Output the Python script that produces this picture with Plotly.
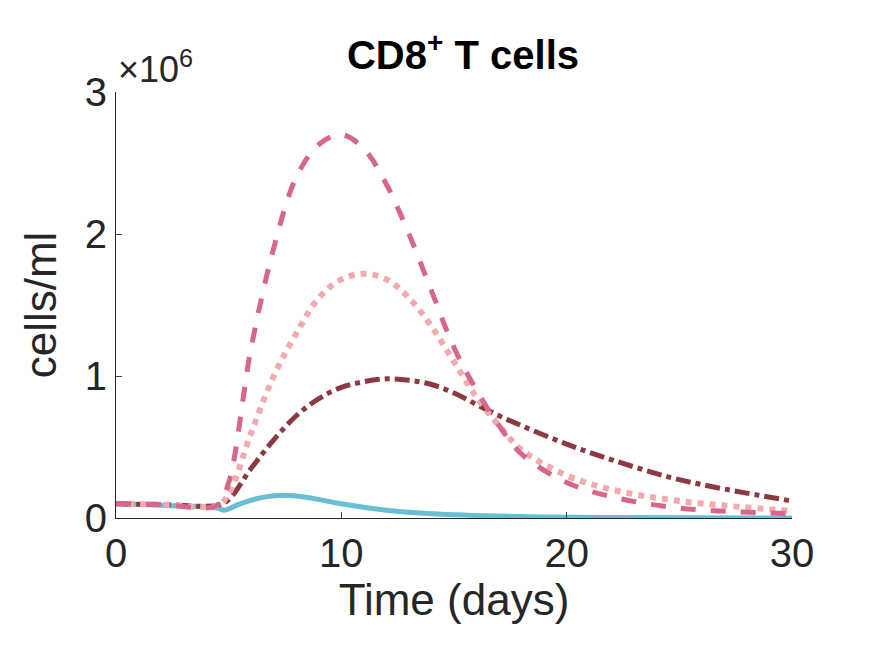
import plotly.graph_objects as go

t_main = [0, 2, 4.5, 5, 6, 7, 8, 9, 10, 11, 12, 13, 14, 15, 16, 17, 18, 20, 22, 25, 30]
dash_vals = [0.1, 0.095, 0.09, 0.25, 1.2, 1.9, 2.4, 2.63, 2.7, 2.6, 2.35, 2.0, 1.6, 1.2, 0.9, 0.65, 0.45, 0.25, 0.15, 0.07, 0.03]
dot_vals = [0.1, 0.095, 0.09, 0.17, 0.6, 1.0, 1.3, 1.55, 1.68, 1.72, 1.68, 1.55, 1.35, 1.1, 0.85, 0.65, 0.48, 0.3, 0.2, 0.12, 0.05]
dashdot_vals = [0.1, 0.095, 0.09, 0.13, 0.35, 0.55, 0.72, 0.84, 0.92, 0.96, 0.98, 0.97, 0.94, 0.88, 0.8, 0.72, 0.65, 0.52, 0.41, 0.27, 0.12]
t_cyan = [0, 2, 4.5, 4.8, 5.5, 6.5, 7.5, 8.5, 10, 12, 14, 18, 22, 30]
cyan_vals = [0.1, 0.09, 0.07, 0.055, 0.1, 0.145, 0.16, 0.145, 0.1, 0.055, 0.03, 0.01, 0.003, 0.0]

fig = go.Figure()
fig.add_trace(go.Scatter(x=t_cyan, y=[v * 1e6 for v in cyan_vals], mode="lines",
                         line=dict(color="#67BFD1", width=5, shape="spline")))
fig.add_trace(go.Scatter(x=t_main, y=[v * 1e6 for v in dashdot_vals], mode="lines",
                         line=dict(color="#8B3A40", width=5, dash="dashdot", shape="spline")))
fig.add_trace(go.Scatter(x=t_main, y=[v * 1e6 for v in dot_vals], mode="lines",
                         line=dict(color="#F2AAAE", width=6, dash="dot", shape="spline")))
fig.add_trace(go.Scatter(x=t_main, y=[v * 1e6 for v in dash_vals], mode="lines",
                         line=dict(color="#D6668A", width=5, dash="dash", shape="spline")))

fig.update_layout(
    width=875, height=656, showlegend=False,
    paper_bgcolor="white", plot_bgcolor="white",
    margin=dict(l=108, r=91, t=84, b=146),
    font=dict(family="Liberation Sans", size=40, color="#262626"),
    title=dict(text="<b>CD8<sup>+</sup> T cells</b>", x=0.52, xanchor="center", y=0.95,
               font=dict(family="Liberation Sans", size=40, color="black")),
    xaxis=dict(range=[0, 30], tickvals=[0, 10, 20, 30], showline=True, linecolor="#262626",
               linewidth=1, ticks="inside", ticklen=6, showgrid=False, zeroline=False,
               tickfont=dict(family="Liberation Sans", size=40, color="#262626"),
               title=dict(text="Time (days)", standoff=8,
                          font=dict(family="Liberation Sans", size=44, color="#262626"))),
    yaxis=dict(range=[0, 3e6], tickvals=[0, 1e6, 2e6, 3e6], ticktext=["0", "1", "2", "3"],
               showline=True, linecolor="#262626", linewidth=1, ticks="inside", ticklen=6,
               showgrid=False, zeroline=False,
               tickfont=dict(family="Liberation Sans", size=40, color="#262626"),
               title=dict(text="cells/ml", standoff=14,
                          font=dict(family="Liberation Sans", size=44, color="#262626"))),
    annotations=[dict(text="×10<sup>6</sup>", xref="paper", yref="paper", x=0.0, y=1.0,
                      xanchor="left", yanchor="bottom", showarrow=False,
                      font=dict(family="Liberation Sans", size=36, color="#262626"))],
)
fig.write_html("out.html")
